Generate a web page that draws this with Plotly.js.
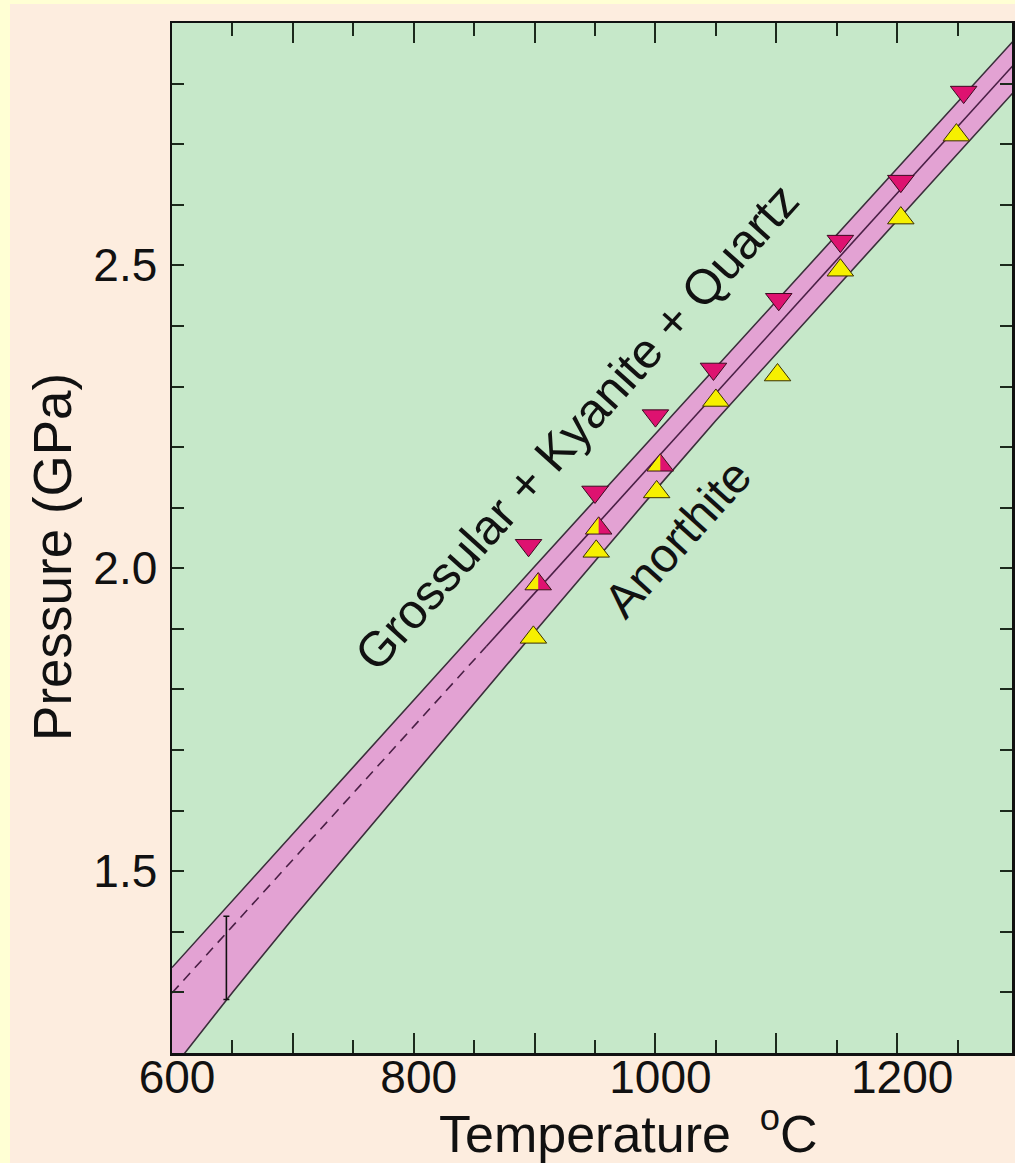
<!DOCTYPE html>
<html><head><meta charset="utf-8">
<script src="https://cdn.plot.ly/plotly-3.0.1.min.js"></script>
<style>
html,body{margin:0;padding:0;background:#FFFFD4;width:1015px;height:1163px;overflow:hidden;}
#chart{position:absolute;left:10px;top:4px;width:1005px;height:1159px;}
</style></head><body><div id="chart"></div>
<script>
// ---- data ----
const redT = [895, 950, 1000, 1048, 1102, 1153, 1203, 1255];
const redP = [2.038, 2.126, 2.252, 2.329, 2.444, 2.540, 2.639, 2.786];
const yelT = [899, 951, 1001, 1050, 1101, 1153, 1203, 1249];
const yelP = [1.886, 2.028, 2.126, 2.277, 2.319, 2.492, 2.578, 2.715];
const halfT = [903, 953, 1004];
const halfP = [1.974, 2.066, 2.170];

const upperT = [600, 900, 1300];
const upperP = [1.341, 2.003, 2.879];
const lowerT = [600, 650, 700, 800, 900, 1000, 1050, 1300];
const lowerP = [1.173, 1.300, 1.422, 1.659, 1.895, 2.129, 2.244, 2.794];
const midDashT = [600, 860];
const midDashP = [1.299, 1.871];
const midSolidT = [860, 1300];
const midSolidP = [1.871, 2.839];

const errT = [645];
const errP = [1.357];
const errHalf = [0.0686];

const xTickVals = [600, 700, 800, 900, 1000, 1100, 1200, 1300];
const xTickText = ['600', '', '800', '', '1000', '', '1200', ''];
const xMinorVals = [650, 750, 850, 950, 1050, 1150, 1250];
const yTickVals = [1.2, 1.3, 1.4, 1.5, 1.6, 1.7, 1.8, 1.9, 2.0, 2.1, 2.2, 2.3, 2.4, 2.5, 2.6, 2.7, 2.8, 2.9];
const yTickText = ['', '', '', '1.5', '', '', '', '', '2.0', '', '', '', '', '2.5', '', '', '', ''];

const xTitle = 'Temperature  <sup>o</sup>C';
const yTitle = 'Pressure (GPa)';
const label1 = 'Grossular + Kyanite + Quartz';
const label2 = 'Anorthite';

// ---- layout constants ----
const W = 1005, H = 1159;
const M = {l: 162, r: 3, t: 19, b: 110, pad: 0};
const xRange = [600, 1295], yRange = [1.2, 2.9];
const pxX = (W - M.l - M.r) / (xRange[1] - xRange[0]);
const pxY = (H - M.t - M.b) / (yRange[1] - yRange[0]);

const FONT = 'Liberation Sans, Arial, Helvetica, sans-serif';
const PINK = '#E3A2D3', MAG = '#DE1270', YEL = '#F6F000', EDGE = '#3a2f3a', MID = '#4a1f45';
const S = 23;

// right-half polygons of the split triangles (same geometry as plotly's triangle-up)
const r = S / 2, rt = r * 2 / Math.sqrt(3), r2 = r / 2;
const hx = [], hy = [];
halfT.forEach((t, i) => {
  const p = halfP[i];
  hx.push(t, t + rt / pxX, t, t, null);
  hy.push(p + r / pxY, p - r2 / pxY, p - r2 / pxY, p + r / pxY, null);
});

const bandX = upperT.concat(lowerT.slice().reverse());
const bandY = upperP.concat(lowerP.slice().reverse());

const traces = [
  {x: bandX, y: bandY, mode: 'lines', fill: 'toself', fillcolor: PINK, line: {width: 0}, hoverinfo: 'skip'},
  {x: upperT, y: upperP, mode: 'lines', line: {color: EDGE, width: 1.6}},
  {x: lowerT, y: lowerP, mode: 'lines', line: {color: EDGE, width: 1.6}},
  {x: midDashT, y: midDashP, mode: 'lines', line: {color: MID, width: 1.6, dash: '10px,7px'}},
  {x: midSolidT, y: midSolidP, mode: 'lines', line: {color: MID, width: 1.6}},
  {x: errT, y: errP, mode: 'markers', marker: {size: 1, color: 'rgba(0,0,0,0)'},
   error_y: {type: 'data', array: errHalf, visible: true, color: '#111', thickness: 1.6, width: 3}},
  {x: redT, y: redP, mode: 'markers', marker: {symbol: 'triangle-down', size: S, color: MAG, line: {color: '#3a0a20', width: 1}}},
  {x: yelT, y: yelP, mode: 'markers', marker: {symbol: 'triangle-up', size: S, color: YEL, line: {color: '#3a3000', width: 1}}},
  {x: halfT, y: halfP, mode: 'markers', marker: {symbol: 'triangle-up', size: S, color: YEL, line: {width: 0}}},
  {x: hx, y: hy, mode: 'lines', fill: 'toself', fillcolor: MAG, line: {width: 0}, hoverinfo: 'skip'},
  {x: halfT, y: halfP, mode: 'markers', marker: {symbol: 'triangle-up', size: S, color: 'rgba(0,0,0,0)', line: {color: '#3a1020', width: 1}}}
];

const axisCommon = {
  showline: true, linecolor: '#111', linewidth: 2.5, mirror: 'ticks',
  ticks: 'inside', tickcolor: '#1c2a1c', tickwidth: 2,
  showgrid: false, zeroline: false, fixedrange: true,
  tickfont: {family: FONT, size: 46, color: '#111'}
};

const layout = {
  width: W, height: H, margin: M,
  paper_bgcolor: '#FDEDDF', plot_bgcolor: '#C6E8C9',
  showlegend: false, hovermode: false,
  xaxis: Object.assign({}, axisCommon, {
    range: xRange, tickmode: 'array', tickvals: xTickVals, ticktext: xTickText, ticklen: 20,
    minor: {tickmode: 'array', tickvals: xMinorVals, ticks: 'inside', ticklen: 13, tickwidth: 2, tickcolor: '#1c2a1c'},
    ticklabelstandoff: -18, ticklabelshift: 5
  }),
  yaxis: Object.assign({}, axisCommon, {
    range: yRange, tickmode: 'array', tickvals: yTickVals, ticktext: yTickText, ticklen: 12,
    ticklabelstandoff: 3
  }),
  annotations: [
    {xref: 'paper', yref: 'paper', x: 0.543, y: -0.0748, text: xTitle, showarrow: false,
     xanchor: 'center', yanchor: 'middle', font: {family: FONT, size: 52, color: '#111'}},
    {xref: 'paper', yref: 'paper', x: -0.1417, y: 0.4816, text: yTitle, showarrow: false, textangle: -90,
     xanchor: 'center', yanchor: 'middle', font: {family: FONT, size: 53, color: '#111'}},
    {x: 934.6, y: 2.234, text: label1, showarrow: false, textangle: -48,
     xanchor: 'center', yanchor: 'middle', font: {family: FONT, size: 49, color: '#111'}},
    {x: 1018, y: 2.05, text: label2, showarrow: false, textangle: -48,
     xanchor: 'center', yanchor: 'middle', font: {family: FONT, size: 48, color: '#111'}}
  ]
};

Plotly.newPlot('chart', traces, layout, {staticPlot: true, displayModeBar: false});
</script></body></html>
